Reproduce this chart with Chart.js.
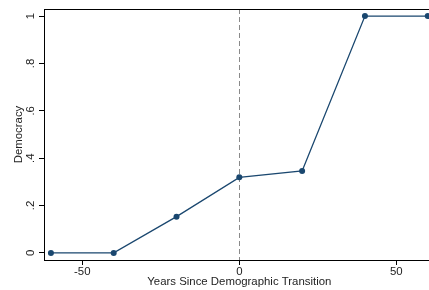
<!DOCTYPE html>
<html>
<head>
<meta charset="utf-8">
<script src="https://cdn.jsdelivr.net/npm/chart.js@4/dist/chart.umd.min.js"></script>
<style>
html,body{margin:0;padding:0;background:#fff;overflow:hidden;}
#wrap{width:429px;height:290px;position:relative;}
</style>
</head>
<body>
<div id="wrap"><canvas id="c"></canvas></div>
<script>
const years = [-60, -40, -20, 0, 20, 40, 60];
const democracy = [0, 0, 0.153, 0.319, 0.346, 1, 1];
const xTicks = [-50, 0, 50];
const xTickLabels = ['-50', '0', '50'];
const yTicks = [0, 0.2, 0.4, 0.6, 0.8, 1];
const yTickLabels = ['0', '.2', '.4', '.6', '.8', '1'];
const refLines = [0];
const xTitle = 'Years Since Demographic Transition';
const yTitle = 'Democracy';

const FONT = '11.4px "Liberation Sans", Arial, sans-serif';
const TXT = '#222';
const LINE = '#1a476f';

const overlay = {
  id: 'overlay',
  beforeDatasetsDraw(chart) {
    const {ctx, chartArea, scales} = chart;
    ctx.save();
    ctx.strokeStyle = '#8a8a8a';
    ctx.lineWidth = 1;
    ctx.setLineDash([5, 3]);
    refLines.forEach(v => {
      const x = Math.round(scales.x.getPixelForValue(v)) + 0.5;
      ctx.beginPath();
      ctx.moveTo(x, chartArea.top);
      ctx.lineTo(x, chartArea.bottom);
      ctx.stroke();
    });
    ctx.restore();
  },
  afterDraw(chart) {
    const {ctx, chartArea, scales} = chart;
    ctx.save();
    ctx.strokeStyle = '#000';
    ctx.lineWidth = 1;
    ctx.beginPath();
    ctx.moveTo(chartArea.left, chartArea.top + 0.5);
    ctx.lineTo(chartArea.right, chartArea.top + 0.5);
    ctx.stroke();
    ctx.fillStyle = TXT;
    ctx.font = FONT;
    yTicks.forEach((v, i) => {
      const y = scales.y.getPixelForValue(v);
      ctx.save();
      ctx.translate(30.5, y);
      ctx.rotate(-Math.PI / 2);
      ctx.textAlign = 'center';
      ctx.textBaseline = 'middle';
      ctx.fillText(yTickLabels[i], 0, 0);
      ctx.restore();
    });
    ctx.save();
    ctx.translate(18.5, (chartArea.top + chartArea.bottom) / 2);
    ctx.rotate(-Math.PI / 2);
    ctx.textAlign = 'center';
    ctx.textBaseline = 'middle';
    ctx.fillText(yTitle, 0, 0);
    ctx.restore();
    ctx.textAlign = 'center';
    ctx.textBaseline = 'middle';
    ctx.fillText(xTitle, scales.x.getPixelForValue(0), 281.5);
    ctx.restore();
  }
};

new Chart(document.getElementById('c'), {
  type: 'line',
  data: {
    datasets: [{
      data: years.map((x, i) => ({x: x, y: democracy[i]})),
      borderColor: LINE,
      backgroundColor: LINE,
      borderWidth: 1.3,
      pointRadius: 3,
      pointBorderWidth: 0,
      pointBackgroundColor: LINE,
      tension: 0,
      clip: 4
    }]
  },
  options: {
    responsive: true,
    maintainAspectRatio: false,
    animation: false,
    devicePixelRatio: 1,
    layout: {autoPadding: false, padding: {left: 0, right: 0, top: 9, bottom: 0}},
    plugins: {legend: {display: false}, tooltip: {enabled: false}},
    scales: {
      x: {
        type: 'linear',
        min: -62.2,
        max: 60.4,
        afterBuildTicks: s => { s.ticks = xTicks.map(v => ({value: v})); },
        afterFit: s => { s.height = 30; s.paddingLeft = 0; s.paddingRight = 0; },
        grid: {drawOnChartArea: false, drawTicks: true, tickLength: 5, color: '#000', lineWidth: 1},
        border: {display: true, color: '#000', width: 1},
        ticks: {
          padding: 0,
          color: TXT,
          font: {family: '"Liberation Sans", Arial, sans-serif', size: 11.4},
          maxRotation: 0,
          callback: (v) => { const i = xTicks.indexOf(v); return i >= 0 ? xTickLabels[i] : ''; }
        }
      },
      y: {
        type: 'linear',
        min: -0.03,
        max: 1.03,
        afterBuildTicks: s => { s.ticks = yTicks.map(v => ({value: v})); },
        afterFit: s => { s.width = 44; s.paddingTop = 0; s.paddingBottom = 0; },
        grid: {drawOnChartArea: false, drawTicks: true, tickLength: 5, color: '#000', lineWidth: 1},
        border: {display: true, color: '#000', width: 1},
        ticks: {display: false}
      }
    }
  },
  plugins: [overlay]
});
</script>
</body>
</html>
